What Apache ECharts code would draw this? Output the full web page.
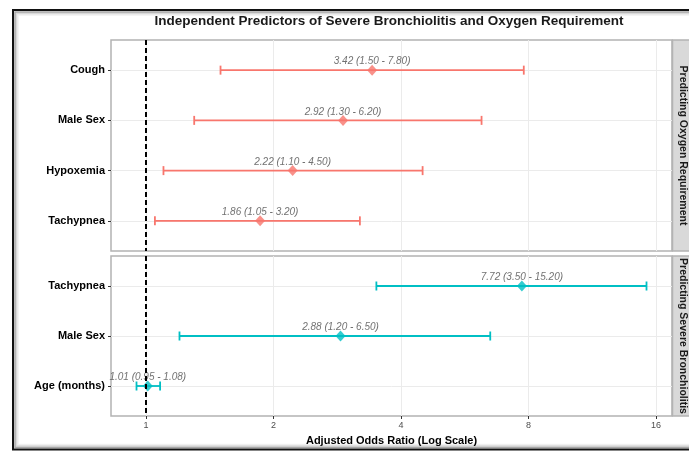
<!DOCTYPE html>
<html>
<head>
<meta charset="utf-8">
<script src="https://cdn.jsdelivr.net/npm/echarts@6/dist/echarts.min.js"></script>
<style>
html,body{margin:0;padding:0;background:#fff;}
#chart{width:689px;height:451px;}
</style>
</head>
<body>
<div id="chart"></div>
<script>
// ---- data ----
var oxyCategories = ['Cough', 'Male Sex', 'Hypoxemia', 'Tachypnea'];
var oxyOR   = [3.42, 2.92, 2.22, 1.86];
var oxyLow  = [1.50, 1.30, 1.10, 1.05];
var oxyHigh = [7.80, 6.20, 4.50, 3.20];

var sevCategories = ['Tachypnea', 'Male Sex', 'Age (months)'];
var sevOR   = [7.72, 2.88, 1.01];
var sevLow  = [3.50, 1.20, 0.95];
var sevHigh = [15.20, 6.50, 1.08];

var xTicks = [1, 2, 4, 8, 16];
var panelTitles = ['Predicting Oxygen Requirement', 'Predicting Severe Bronchiolitis'];
var chartTitle = 'Independent Predictors of Severe Bronchiolitis and Oxygen Requirement';
var xTitle = 'Adjusted Odds Ratio (Log Scale)';

// ---- build ----
var RED = '#F8766D', TEAL = '#00BFC4';
var FONT = '"Liberation Sans", Arial, sans-serif';
var X_MIN = 0.827, X_MAX = 17.46;

function idxArr(n){ var a=[]; for(var i=0;i<n;i++) a.push(i); return a; }
function fmt(v){ return v.toFixed(2); }

function errSeries(gi, lows, highs, color){
  return {
    type: 'custom', xAxisIndex: gi, yAxisIndex: gi, z: 2, silent: true,
    data: lows.map(function(l, i){ return [l, highs[i], i]; }),
    encode: { x: [0, 1], y: 2 },
    renderItem: function(params, api){
      var p1 = api.coord([api.value(0), api.value(2)]);
      var p2 = api.coord([api.value(1), api.value(2)]);
      var h = 4.5;
      var st = { stroke: color, lineWidth: 1.8 };
      return { type: 'group', children: [
        { type: 'line', shape: { x1: p1[0], y1: p1[1], x2: p2[0], y2: p2[1] }, style: st },
        { type: 'line', shape: { x1: p1[0], y1: p1[1]-h, x2: p1[0], y2: p1[1]+h }, style: st },
        { type: 'line', shape: { x1: p2[0], y1: p2[1]-h, x2: p2[0], y2: p2[1]+h }, style: st }
      ]};
    }
  };
}
function pointSeries(gi, ors, lows, highs, color){
  return {
    type: 'scatter', xAxisIndex: gi, yAxisIndex: gi, z: 3,
    symbol: 'diamond', symbolSize: [10, 11],
    itemStyle: { color: color },
    data: ors.map(function(v, i){ return [v, i]; }),
    label: {
      show: true, position: 'top', distance: 1, offset: [0, 3],
      fontFamily: FONT, fontSize: 10, fontStyle: 'italic', color: '#4d4d4d',
      formatter: function(p){
        var i = p.dataIndex;
        return fmt(ors[i]) + ' (' + fmt(lows[i]) + ' - ' + fmt(highs[i]) + ')';
      }
    }
  };
}
function refSeries(gi){
  return {
    type: 'scatter', xAxisIndex: gi, yAxisIndex: gi, z: 5, data: [],
    markLine: {
      silent: true, symbol: 'none', label: { show: false },
      lineStyle: { color: '#000', width: 2, type: [5, 3] },
      data: [{ xAxis: 1 }]
    }
  };
}
function xAxis(gi, showLabels){
  return {
    type: 'log', logBase: 2, gridIndex: gi, min: X_MIN, max: X_MAX, position: 'bottom',
    axisLine: { show: false, onZero: false },
    axisTick: { show: showLabels, customValues: xTicks, length: 3, lineStyle: { color: '#333' } },
    axisLabel: { show: showLabels, customValues: xTicks, margin: 5, fontFamily: FONT, fontSize: 9, color: '#4d4d4d',
                 formatter: function(v){ return String(Math.round(v)); } },
    splitLine: { show: true, lineStyle: { color: '#ebebeb', width: 1 } },
    name: showLabels ? xTitle : '', nameLocation: 'middle', nameGap: 19,
    nameTextStyle: { fontFamily: FONT, fontSize: 11, fontWeight: 'bold', color: '#000' }
  };
}
function yAxis(gi, cats){
  return {
    type: 'value', gridIndex: gi, inverse: true, min: -0.6, max: cats.length - 1 + 0.6, position: 'left',
    axisLine: { show: false, onZero: false },
    axisTick: { show: true, customValues: idxArr(cats.length), length: 3, lineStyle: { color: '#333' } },
    axisLabel: { customValues: idxArr(cats.length), margin: 6, fontFamily: FONT, fontSize: 11, fontWeight: 'bold', color: '#000',
                 formatter: function(v){ return cats[Math.round(v)]; } },
    splitLine: { show: true, lineStyle: { color: '#ebebeb', width: 1 } }
  };
}

var grids = [
  { left: 111, top: 40, width: 561, height: 211 },
  { left: 111, top: 256, width: 561, height: 160 }
];
grids.forEach(function(g){ g.show = true; g.borderColor = '#b3b3b3'; g.borderWidth = 1.5; g.backgroundColor = 'transparent'; });

var graphics = [
  // outer frame with inner shadow
  { type: 'rect', shape: { x: 13, y: 10, width: 700, height: 439.5 }, style: { fill: null, stroke: '#111', lineWidth: 2 }, z: 10 },
  { type: 'rect', shape: { x: 15, y: 12, width: 696, height: 435.5 }, style: { fill: null, stroke: 'rgba(0,0,0,0.35)', lineWidth: 1.5 }, z: 10 },
  { type: 'rect', shape: { x: 16.5, y: 13.5, width: 693, height: 432.5 }, style: { fill: null, stroke: 'rgba(0,0,0,0.15)', lineWidth: 1.5 }, z: 10 },
  { type: 'rect', shape: { x: 18, y: 15, width: 690, height: 429.5 }, style: { fill: null, stroke: 'rgba(0,0,0,0.06)', lineWidth: 1.5 }, z: 10 },
  // title
  { type: 'text', x: 389, y: 21, style: { text: chartTitle, fontFamily: FONT, fontSize: 13.5, fontWeight: 'bold', fill: '#1a1a1a', align: 'center', verticalAlign: 'middle' } }
];
grids.forEach(function(g, i){
  graphics.push({ type: 'rect', shape: { x: 672.5, y: g.top, width: 22, height: g.height },
    style: { fill: '#d9d9d9', stroke: '#b3b3b3', lineWidth: 1.5 } });
  graphics.push({ type: 'text', x: 682.5, y: g.top + g.height / 2, rotation: -Math.PI / 2,
    style: { text: panelTitles[i], fontFamily: FONT, fontSize: 10.5, fontWeight: 'bold', fill: '#1a1a1a', align: 'center', verticalAlign: 'middle' } });
});

var chart = echarts.init(document.getElementById('chart'), null, { renderer: 'canvas' });
chart.setOption({
  animation: false,
  backgroundColor: '#fff',
  grid: grids,
  xAxis: [xAxis(0, false), xAxis(1, true)],
  yAxis: [yAxis(0, oxyCategories), yAxis(1, sevCategories)],
  graphic: graphics,
  series: [
    errSeries(0, oxyLow, oxyHigh, RED),
    pointSeries(0, oxyOR, oxyLow, oxyHigh, RED),
    refSeries(0),
    errSeries(1, sevLow, sevHigh, TEAL),
    pointSeries(1, sevOR, sevLow, sevHigh, TEAL),
    refSeries(1)
  ]
});
</script>
</body>
</html>
